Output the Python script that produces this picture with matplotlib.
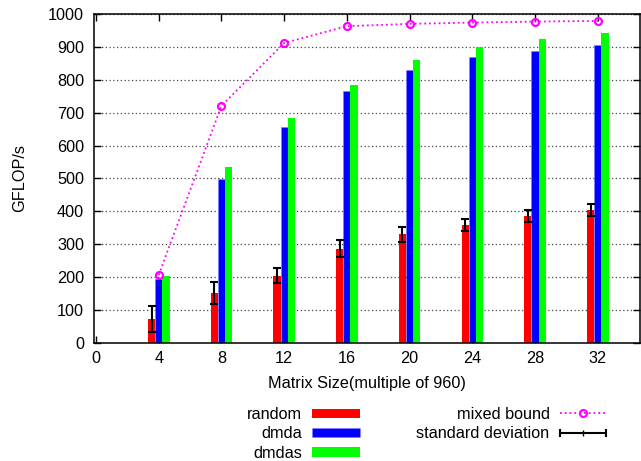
import numpy as np
import matplotlib
matplotlib.use('Agg')
import matplotlib.pyplot as plt
from matplotlib.patches import Patch
from matplotlib.lines import Line2D
from matplotlib.legend_handler import HandlerErrorbar

plt.rcParams['font.family'] = ['Liberation Sans', 'DejaVu Sans']
plt.rcParams['font.size'] = 11.7

# Dados
tamanhos = [4, 8, 12, 16, 20, 24, 28, 32]
random_gf = [72, 153, 205, 286, 330, 359, 387, 405]
random_std = [40, 33, 22, 26, 24, 19, 18, 19]
dmda_gf = [195, 498, 657, 765, 831, 869, 888, 907]
dmdas_gf = [204, 536, 685, 784, 860, 900, 924, 943]
mixed_bound = [207, 721, 912, 963, 970, 974, 977, 979]

x = np.array(tamanhos, dtype=float)
w = 0.46

fig = plt.figure(figsize=(6.41, 4.61), dpi=100)
ax = fig.add_axes([0.1466, 0.256, 0.852, 0.7136])

ax.bar(x - w, random_gf, width=w, color='#ff0000', zorder=2)
ax.bar(x, dmda_gf, width=w, color='#0000ff', edgecolor='#8080ff',
       linestyle='--', linewidth=0.6, zorder=2)
ax.bar(x + w, dmdas_gf, width=w, color='#00ff00', zorder=2)
ax.errorbar(x - w, random_gf, yerr=random_std, fmt='none', ecolor='black',
            elinewidth=1.5, capsize=3, capthick=1.5, zorder=3)
ax.plot(x, mixed_bound, color='#ff00ff', linestyle=':', linewidth=1.3,
        marker='o', ms=5, mfc='none', mec='#ff00ff', mew=1.6, zorder=4)

ax.set_xlim(-0.13, 34.7)
ax.set_ylim(0, 1000)
ax.set_xticks(range(0, 33, 4))
ax.set_yticks(range(0, 1001, 100))
ax.tick_params(direction='in', length=5, width=1, top=True, right=True)
ax.tick_params(axis='x', pad=6)
ax.tick_params(axis='y', pad=7)
ax.yaxis.grid(True, linestyle=(0, (1, 2)), color='#444444', linewidth=0.9)
ax.set_axisbelow(True)
for s in ax.spines.values():
    s.set_linewidth(1.1)

ax.set_xlabel('Matrix Size(multiple of 960)', labelpad=7)
ax.set_ylabel('GFLOP/s', labelpad=15)

# Legendas no estilo gnuplot (texto à esquerda da amostra)
h_random = Patch(facecolor='#ff0000', label='random')
h_dmda = Patch(facecolor='#0000ff', edgecolor='#8080ff', linestyle='--',
               linewidth=0.6, label='dmda')
h_dmdas = Patch(facecolor='#00ff00', label='dmdas')
fig.legend(handles=[h_random, h_dmda, h_dmdas], loc='upper right',
           bbox_to_anchor=(360 / 641, 1 - 407 / 461), frameon=False,
           markerfirst=False, handlelength=2.95, handleheight=0.52,
           handletextpad=0.62, labelspacing=0.27, borderpad=0, borderaxespad=0)

h_mixed = Line2D([], [], color='#ff00ff', linestyle=':', linewidth=1.3,
                 marker='o', ms=5, mfc='none', mec='#ff00ff', mew=1.6)
h_std = ax.errorbar([np.nan], [np.nan], xerr=[1.0], fmt='|', color='black',
                    ms=4, elinewidth=1.5, capsize=3, capthick=1.5)
fig.legend(handles=[h_mixed, h_std], labels=['mixed bound', 'standard deviation'],
           loc='upper right', bbox_to_anchor=(606 / 641, 1 - 407 / 461),
           frameon=False, markerfirst=False, numpoints=1, handlelength=2.85,
           handletextpad=0.62, labelspacing=0.27, borderpad=0, borderaxespad=0,
           handler_map={type(h_std): HandlerErrorbar(xerr_size=1.42)})

fig.savefig('out.png', dpi=100)
